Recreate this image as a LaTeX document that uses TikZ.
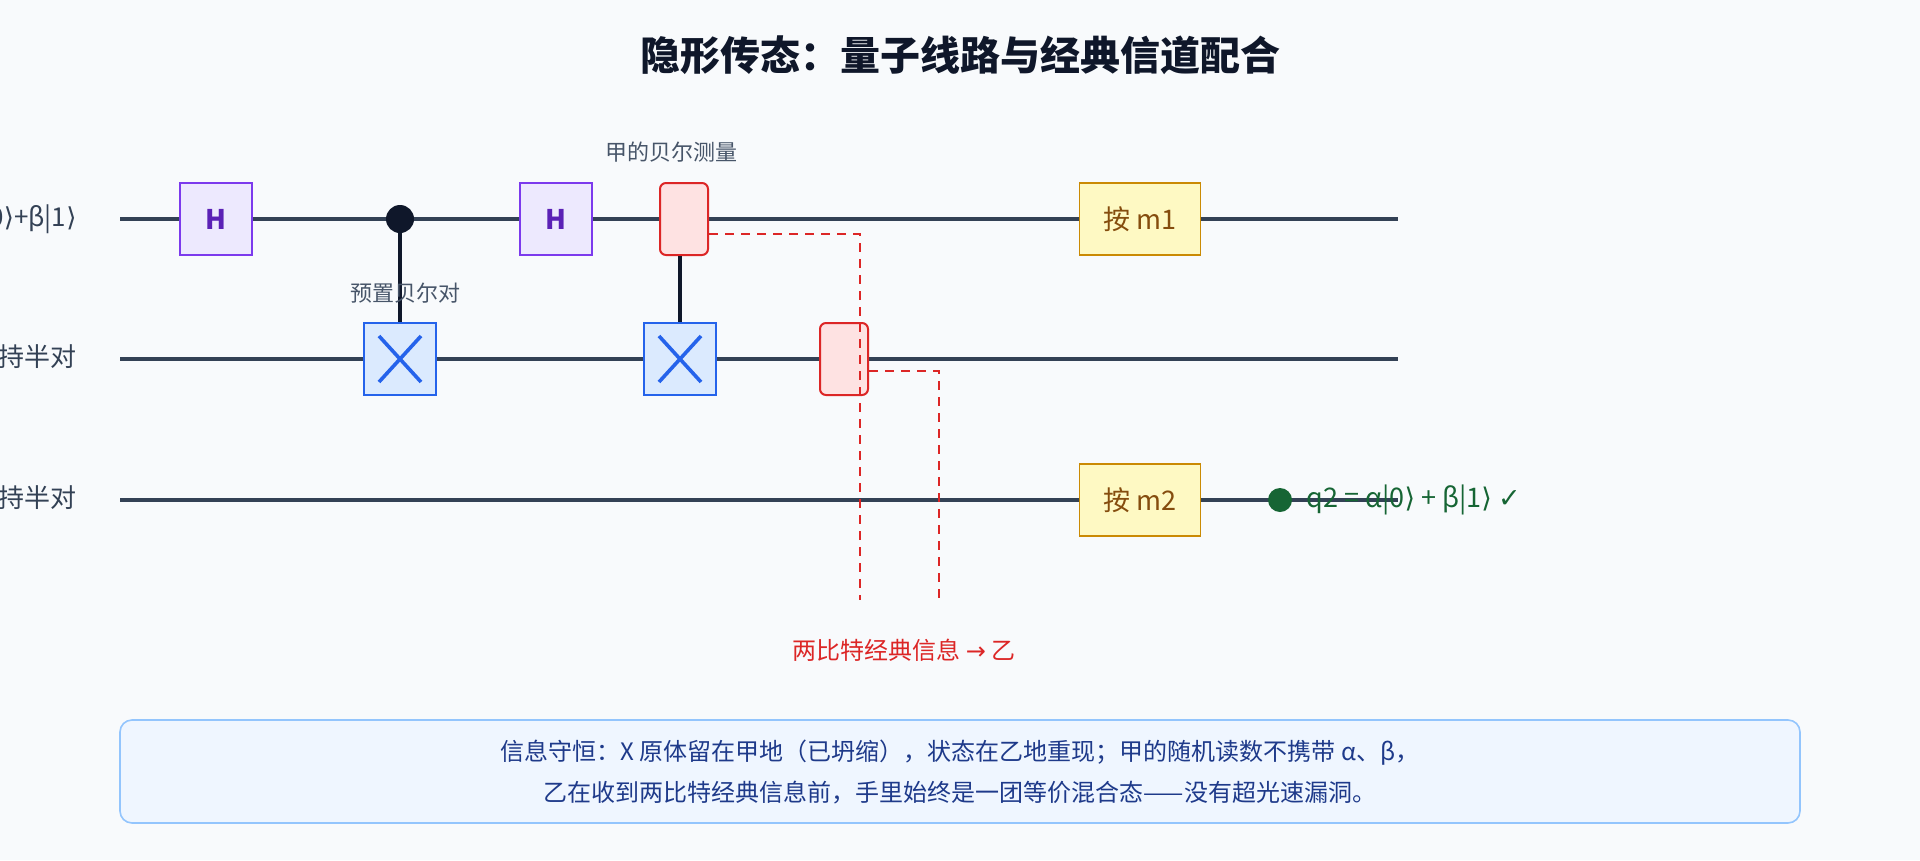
\documentclass[tikz,border=0pt]{standalone}
\usepackage{fontspec}
\setmainfont{Noto Sans CJK SC}
\newfontfamily\dv{DejaVu Sans}
\newcommand{\rk}{{\dv ⟩}}
\definecolor{bg}{HTML}{F8FAFC}
\definecolor{wire}{HTML}{334155}
\definecolor{lbl}{HTML}{475569}
\definecolor{hfill}{HTML}{EDE9FE}
\definecolor{hdraw}{HTML}{7C3AED}
\definecolor{htext}{HTML}{5B21B6}
\tikzset{
 x=1pt,y=-1pt,
 wire/.style={line width=3.6pt,draw=wire},
 hg/.style={draw=hdraw,fill=hfill,line width=1.6pt,minimum width=72pt,minimum height=72pt,text=htext,font=\fontsize{27}{27}\selectfont\bfseries},
 xg/.style={draw={rgb,255:red,37;green,99;blue,235},fill={rgb,255:red,219;green,234;blue,254},line width=1.6pt,minimum width=72pt,minimum height=72pt},
 mg/.style={draw={rgb,255:red,220;green,38;blue,38},fill={rgb,255:red,254;green,226;blue,226},line width=2pt,rounded corners=6pt,minimum width=48pt,minimum height=72pt},
 cg/.style={draw={rgb,255:red,202;green,138;blue,4},fill={rgb,255:red,254;green,249;blue,195},line width=1.6pt,minimum width=121pt,minimum height=72pt,text={rgb,255:red,133;green,77;blue,14},font=\fontsize{27}{27}\selectfont},
 cls/.style={draw={rgb,255:red,220;green,38;blue,38},line width=2.8pt,dash pattern=on 9pt off 7pt},
 sm/.style={text=lbl,font=\fontsize{22}{22}\selectfont},
 wl/.style={text=wire,font=\fontsize{26}{26}\selectfont,anchor=east},
}
\begin{document}
\begin{tikzpicture}
\path[use as bounding box,fill=bg] (0,0) rectangle (1920,860);
\begin{scope}
\clip (0,0) rectangle (1920,860);
\node (title) at (960,55) {\fontsize{40}{40}\selectfont\bfseries\color[HTML]{0F172A}隐形传态：量子线路与经典信道配合};
% wires
\coordinate (w0s) at (120,219); \coordinate (w0e) at (1398,219);
\coordinate (w1s) at (120,359); \coordinate (w1e) at (1398,359);
\coordinate (w2s) at (120,500); \coordinate (w2e) at (1398,500);
\draw[wire] (w0s) -- (w0e);
\draw[wire] (w1s) -- (w1e);
\draw[wire] (w2s) -- (w2e);
\node[wl] (l0) at (80,219) {q0 = α|0\rk+β|1\rk};
\node[wl] (l1) at (80,359) {q1：甲持半对};
\node[wl] (l2) at (80,500) {q2：乙持半对};
% gates
\node[hg] (h1) at (216,219) {H};
\node[xg] (x1) at (400,359) {};
\draw[line width=3.6pt,draw={rgb,255:red,37;green,99;blue,235}] (x1.center) ++(-21,-23) -- ++(42,46) (x1.center) ++(21,-23) -- ++(-42,46);
\draw[line width=3.6pt,draw={rgb,255:red,15;green,23;blue,42}] (400,219) -- (x1.north);
\node[circle,fill={rgb,255:red,15;green,23;blue,42},inner sep=0pt,minimum size=28pt] (c1) at (400,219) {};
\node[sm] (pre) at (405,293) {预置贝尔对};
\node[hg] (h2) at (556,219) {H};
\node[xg] (x2) at (680,359) {};
\draw[line width=3.6pt,draw={rgb,255:red,37;green,99;blue,235}] (x2.center) ++(-21,-23) -- ++(42,46) (x2.center) ++(21,-23) -- ++(-42,46);
\node[mg] (m1) at (684,219) {};
\draw[line width=3.6pt,draw={rgb,255:red,15;green,23;blue,42}] (680,256) -- (x2.north);
\node[sm] (bm) at (671,152) {甲的贝尔测量};
\node[mg] (m2) at (844,359) {};
% classical
\coordinate (d1) at (860,600); \coordinate (d2) at (939,600);
\draw[cls] (m1.east |- 0,234) -| (d1);
\draw[cls] (m2.east |- 0,371) -| (d2);
\node (cl) at (904,650) {\fontsize{24}{24}\selectfont\color[HTML]{DC2626}两比特经典信息 {\dv →} 乙};
\node[cg] (g1) at (1140,219) {按 m1};
\node[cg] (g2) at (1140,500) {按 m2};
\node[circle,fill={rgb,255:red,22;green,101;blue,52},inner sep=0pt,minimum size=24pt] (ok) at (1280,500) {};
\node[anchor=west,text={rgb,255:red,22;green,101;blue,52},font=\fontsize{27}{27}\selectfont] (res) at (1303,500) {q2 = α|0\rk{} + β|1\rk{} {\dv ✓}};
% note
\node[draw={rgb,255:red,147;green,197;blue,253},fill={rgb,255:red,239;green,246;blue,255},line width=1.6pt,rounded corners=12pt,minimum width=1680pt,minimum height=103pt] (note) at (960,771.5) {};
\node[align=center,text={rgb,255:red,30;green,58;blue,138},font=\fontsize{24}{41}\selectfont] (nt) at (960,772) {信息守恒：X 原体留在甲地（已坍缩），状态在乙地重现；甲的随机读数不携带 α、β，\\乙在收到两比特经典信息前，手里始终是一团等价混合态——没有超光速漏洞。};
\end{scope}
\end{tikzpicture}
\end{document}
